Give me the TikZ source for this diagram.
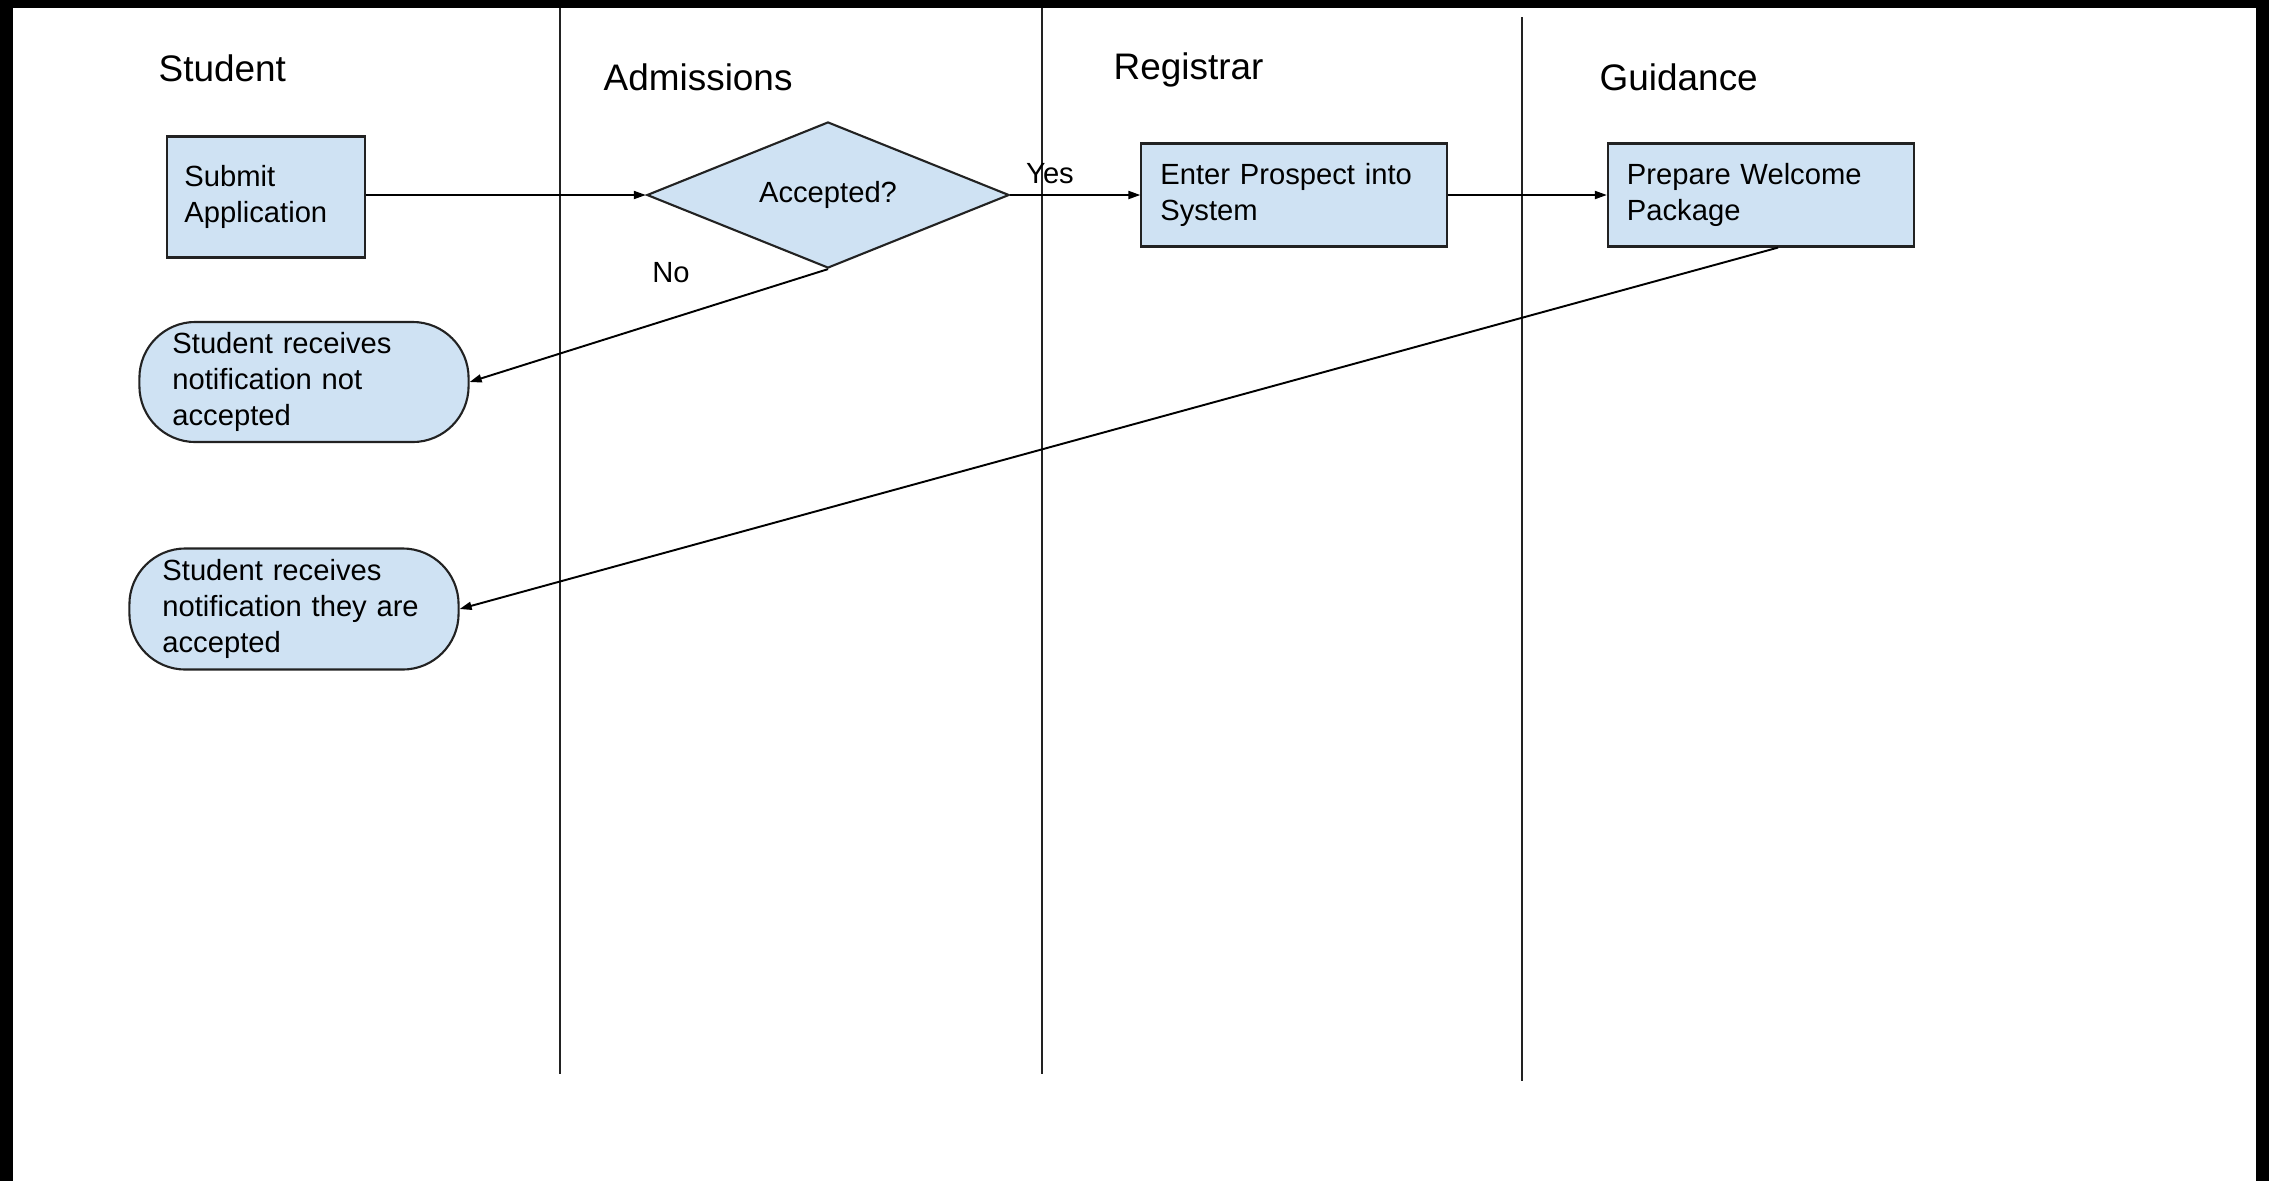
\documentclass[tikz,border=0pt]{standalone}
\usepackage{fontspec}
\setmainfont{Liberation Sans}
\usetikzlibrary{arrows.meta,shapes.geometric}
\definecolor{boxfill}{HTML}{CFE2F3}
\definecolor{edgecol}{HTML}{222222}
\begin{document}
\begin{tikzpicture}[x=0.01cm,y=-0.01cm,
  boxtext/.style={font=\fontsize{8.3}{10.3}\selectfont},
  procbox/.style={draw=edgecol, line width=0.6pt, fill=boxfill, inner ysep=0pt, align=left, boxtext, anchor=center},
  termbox/.style={procbox, rounded corners=0.56cm, inner xsep=0.33cm, text width=2.63cm},
  decbox/.style={draw=edgecol, line width=0.6pt, fill=boxfill, diamond, aspect=2.48, inner sep=0pt, boxtext, minimum width=3.62cm, minimum height=1.46cm},
  lanetitle/.style={font=\fontsize{10.5}{12}\selectfont, anchor=west, inner sep=0pt},
  lane/.style={draw=edgecol, line width=0.6pt},
  flow/.style={draw=black, line width=0.55pt, -{Triangle[length=0.12cm,width=0.08cm]}},
  lbl/.style={boxtext, inner sep=0pt}]
% canvas and frame
\useasboundingbox (0,0) rectangle (2269,1181);
\fill[white] (0,0) rectangle (2269,1181);
\fill[black] (0,0) rectangle (13,1181);
\fill[black] (0,0) rectangle (2269,8);
\fill[black] (2256,0) rectangle (2269,1181);
% lanes
\draw[lane] (560,8) -- (560,1074);
\draw[lane] (1042,8) -- (1042,1074);
\draw[lane] (1522,17) -- (1522,1081);
% lane titles
\node[lanetitle] (tstudent) at (158,68) {Student};
\node[lanetitle] (tadm) at (603,77) {Admissions};
\node[lanetitle] (treg) at (1113,70) {Registrar};
\node[lanetitle] (tguid) at (1599,77) {Guidance};
% nodes
\node[procbox, inner xsep=0.17cm, text width=1.63cm, minimum height=1.21cm] (submit) at (266,197) {Submit\\Application};
\node[decbox] (acc) at (828,195) {Accepted?};
\node[procbox, inner xsep=0.19cm, text width=2.67cm, minimum height=1.03cm] (enter) at (1294,195) {Enter Prospect into\\System};
\node[procbox, inner xsep=0.19cm, text width=2.68cm, minimum height=1.03cm] (prep) at (1761,195) {Prepare Welcome\\Package};
\node[termbox, minimum height=1.20cm] (notacc) at (304,382) {Student receives\\notification not\\accepted};
\node[termbox, minimum height=1.21cm] (isacc) at (294,609) {Student receives\\notification they are\\accepted};
% connectors
\draw[flow] (submit.east |- acc.west) -- (acc.west);
\draw[flow] (acc.east) -- (enter.west);
\draw[flow] (enter.east) -- (prep.west);
\draw[flow] (acc.south) -- (notacc.east);
\draw[flow] ([xshift=0.17cm]prep.south) -- (isacc.east);
% labels
\node[lbl] (yes) at (1050,174) {Yes};
\node[lbl] (no) at (671,273) {No};
\end{tikzpicture}
\end{document}
